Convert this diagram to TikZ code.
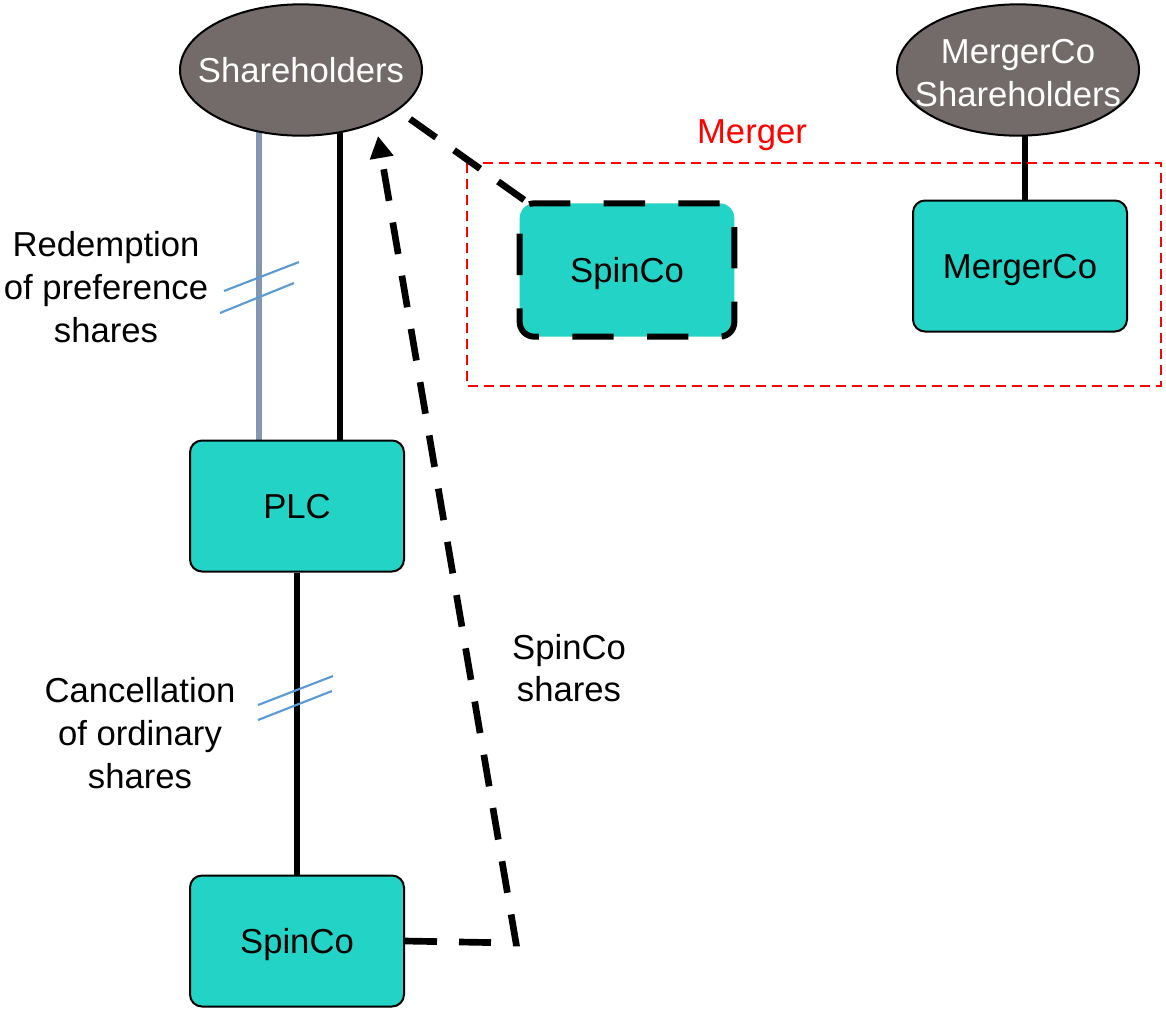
\documentclass[tikz,border=0pt]{standalone}
\usepackage{fontspec}
\setmainfont{Liberation Sans}
\usetikzlibrary{shapes.geometric,arrows.meta,calc,backgrounds}
\definecolor{boxfill}{RGB}{35,211,198}
\definecolor{holder}{RGB}{115,107,105}
\definecolor{prefline}{RGB}{132,151,176}
\definecolor{slashblue}{RGB}{91,155,213}
\begin{document}
\begin{tikzpicture}[x=0.75pt,y=-0.75pt,
  every node/.style={font=\fontsize{26}{32}\selectfont},
  entity/.style={draw=black,line width=1.5pt,fill=boxfill,rounded corners=9pt,
    minimum width=160.5pt,minimum height=98.25pt,inner sep=0pt,text depth=0pt},
  newentity/.style={fill=boxfill,rounded corners=11pt,draw=black,line width=4.5pt,
    dash pattern=on 31pt off 25pt,minimum width=161pt,minimum height=100pt,inner sep=0pt,
    text depth=0pt},
  holders/.style={ellipse,draw=black,line width=1.5pt,fill=holder,
    minimum width=181.5pt,minimum height=98.5pt,inner sep=0pt},
  holdertext/.style={text=white,align=center,inner sep=0pt},
  owns/.style={line width=3.8pt,black},
  prefown/.style={line width=3.8pt,prefline},
  transfer/.style={line width=5pt,black,dash pattern=on 24pt off 16.5pt},
  slashmark/.style={line width=1.6pt,slashblue},
  note/.style={align=center,inner sep=0pt}]

\useasboundingbox (0,0) rectangle (1166,1008);

% shareholder groups: empty ellipses with their names laid on top
\node[holders] (sh) at (301,70) {};
\node[holdertext,text depth=0pt] (shname) at (sh.center) {Shareholders};
\node[holders] (msh) at (1018,70) {};
\node[holdertext] (mshname) at ($(msh.center)+(0,3)$) {MergerCo\\Shareholders};

% companies
\node[entity] (plc) at (297,506) {PLC};
\node[entity] (spinlow) at (297,941) {SpinCo};
\node[newentity] (spinhigh) at (627,270) {SpinCo};
\node[entity] (mco) at (1020,266) {MergerCo};

% merger frame and its title
\draw[red,line width=1.5pt,dash pattern=on 7.5pt off 4.5pt] (467,163) rectangle (1161,386);
\node[note,red] (mergerlabel) at (752,135) {Merger};

% ownership lines, tucked under the ellipses
\begin{scope}[on background layer]
  \draw[prefown] ($(plc.north)+(-38,0)$) -- ++(0,-330);
  \draw[owns] ($(plc.north)+(43,0)$) -- ++(0,-330);
  \draw[owns] ($(mco.north)+(5,0)$) -- ++(0,-110);
\end{scope}
\draw[owns,line width=4.5pt] (plc.south) -- (spinlow.north);

% distribution of the new shares
\coordinate (turn) at (516,943);
\coordinate (tip) at (378,136);
\draw[transfer,line join=miter,-{Triangle[length=16.5pt,width=17pt]}] (spinlow.east) -- (turn) -- (tip);
\coordinate (shedge) at (410,119);
\draw[transfer] (shedge) -- ($(spinhigh.north west)+(8,0)$);

% cancellation marks
\draw[slashmark] (224,291) -- (299,262);
\draw[slashmark] (220,313) -- (294,283);
\draw[slashmark] (258,705) -- (333,676);
\draw[slashmark] (258,720) -- (332,691);

% captions
\node[note] (redeem) at (106,287) {Redemption\\of preference\\shares};
\node[note] (cancel) at (140,733) {Cancellation\\of ordinary\\shares};
\node[note] (spinshares) at (569,668) {SpinCo\\shares};
\end{tikzpicture}
\end{document}
